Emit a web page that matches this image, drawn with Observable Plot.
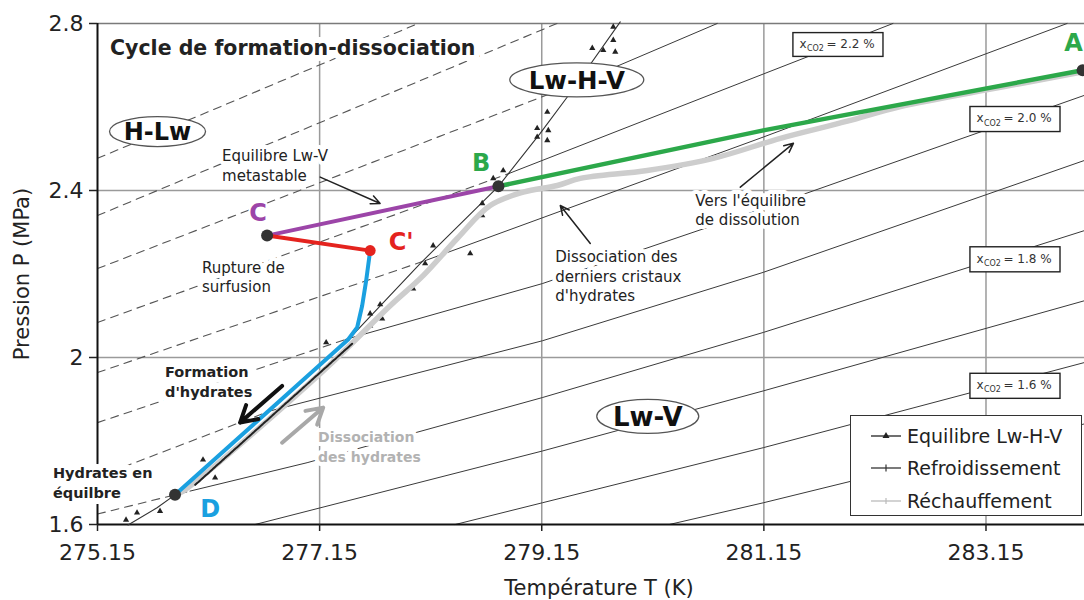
<!DOCTYPE html>
<html><head><meta charset="utf-8">
<script src="https://cdn.jsdelivr.net/npm/d3@7"></script>
<script src="https://cdn.jsdelivr.net/npm/@observablehq/plot@0.6"></script>
<style>
body{margin:0;background:#fff;}
#wrap{position:relative;width:1084px;height:600px;overflow:hidden;font-family:"DejaVu Sans",sans-serif;}
#wrap svg text{paint-order:stroke;}
.legend{position:absolute;left:850px;top:415px;width:230px;height:99px;border:1.6px solid #333;background:#fff;}
.legend .row{position:absolute;left:18px;height:24px;display:flex;align-items:center;font-size:19px;color:#222;}
.legend .row svg{margin-right:4px;}
</style></head>
<body><div id="wrap"></div>
<script>
// ---------- axes ----------
const xTicks = [275.15, 277.15, 279.15, 281.15, 283.15];
const yTicks = [1.6, 2.0, 2.4, 2.8];
const yTickLabels = ["1.6", "2", "2.4", "2.8"];
const gridT = [277.15, 279.15, 281.15, 283.15];
const gridP = [2.0, 2.4];

// ---------- CO2 isopleths (T K, P MPa) ----------
const isoDashed = [
  [[275.15, 2.477], [278.037, 2.800]],
  [[275.15, 2.340], [279.287, 2.800]],
  [[275.15, 2.213], [279.470, 2.657]],
  [[275.15, 2.084], [278.857, 2.441]],
  [[275.15, 1.964], [278.100, 2.232]],
  [[275.15, 1.844], [277.380, 2.043]],
  [[275.15, 1.714], [276.704, 1.872]],
  [[275.15, 1.625], [275.983, 1.680]]
];
const isoSolid = [
  [[279.470, 2.657], [280.730, 2.800]],
  [[278.857, 2.441], [281.145, 2.679], [282.312, 2.800]],
  [[278.100, 2.232], [281.145, 2.528], [283.880, 2.800]],
  [[277.380, 2.043], [279.155, 2.177], [281.145, 2.357], [284.037, 2.628]],
  [[276.704, 1.872], [279.155, 2.040], [281.145, 2.204], [284.037, 2.472]],
  [[275.983, 1.680], [277.037, 1.748], [279.155, 1.904], [281.145, 2.060], [284.037, 2.304]],
  [[276.569, 1.600], [279.155, 1.776], [281.145, 1.920], [284.037, 2.136]],
  [[278.371, 1.600], [279.155, 1.652], [281.145, 1.784], [284.037, 1.988]],
  [[280.299, 1.600], [281.145, 1.652], [284.037, 1.841]]
];
const boxLabels = ["2.2 %", "2.0 %", "1.8 %", "1.6 %"];
const boxT1 = [281.416, 283.010, 283.010, 283.010];
const boxT2 = [282.227, 283.821, 283.821, 283.821];
const boxPlo = [2.720, 2.540, 2.204, 1.901];
const boxPhi = [2.777, 2.600, 2.264, 1.961];

// ---------- equilibrium Lw-H-V ----------
const eqLine = [[275.425, 1.599], [275.686, 1.640], [275.848, 1.671], [276.614, 1.853], [277.398, 2.040],
  [278.055, 2.225], [278.760, 2.410], [279.136, 2.537], [279.380, 2.624], [279.857, 2.804]];
const eqPoints = [[275.407, 1.611], [275.506, 1.628], [275.713, 1.632], [276.100, 1.755], [276.209, 1.712],
  [277.209, 2.036], [277.605, 2.105], [277.695, 2.127], [277.605, 2.076], [277.713, 2.093],
  [277.992, 2.165], [278.100, 2.225], [278.172, 2.268], [278.506, 2.249], [278.614, 2.369],
  [278.614, 2.340], [278.713, 2.429], [278.803, 2.448], [279.109, 2.549], [279.109, 2.528],
  [279.200, 2.588], [279.209, 2.544], [279.200, 2.520], [279.605, 2.741], [279.704, 2.736],
  [279.812, 2.732], [279.794, 2.760], [279.794, 2.792]];

// ---------- experimental cycle ----------
const rechauffement = [[275.848, 1.671], [275.920, 1.680], [277.182, 1.968], [277.785, 2.124], [278.082, 2.196],
  [278.389, 2.285], [278.686, 2.364], [278.983, 2.396], [279.290, 2.412], [279.497, 2.429], [280.100, 2.448],
  [280.695, 2.477], [281.299, 2.525], [281.902, 2.566], [282.380, 2.601], [283.280, 2.647], [284.000, 2.683]];
const refroidissement = [[276.030, 1.695], [277.443, 2.033]];
const pathAB = [[284.020, 2.688], [281.145, 2.544], [278.760, 2.410]];
const pathBC = [[278.760, 2.410], [276.677, 2.292]];
const pathCC = [[276.677, 2.292], [277.605, 2.256]];
const pathCD = [[277.605, 2.256], [277.569, 2.184], [277.533, 2.124], [277.488, 2.072], [277.407, 2.043], [275.848, 1.671]];
const pointNames = ["A", "B", "C", "D"];
const pointT = [284.020, 278.760, 276.677, 275.848];
const pointP = [2.688, 2.410, 2.292, 1.671];
const pointCprime = [[277.605, 2.256]];

// ---------- annotations ----------
const labelNames = ["C", "C'", "B", "A", "D"];
const labelT = [276.596, 277.884, 278.605, 283.938, 276.164];
const labelP = [2.345, 2.276, 2.465, 2.753, 1.637];
const notes = ["Equilibre Lw-V\nmetastable", "Rupture de\nsurfusion", "Dissociation des\nderniers cristaux\nd'hydrates", "Vers l'équilibre\nde dissolution"];
const notesT = [276.272, 276.091, 279.272, 280.533];
const notesP = [2.462, 2.194, 2.196, 2.355];
const notesBold = ["Formation\nd'hydrates", "Hydrates en\néquilbre"];
const notesBoldT = [275.758, 274.749];
const notesBoldP = [1.944, 1.702];
const noteGray = ["Dissociation\ndes hydrates"];
const noteGrayT = [277.136];
const noteGrayP = [1.788];
const arrowsThin = [[277.155, 2.432, 277.695, 2.369], [279.587, 2.273, 279.317, 2.364], [280.938, 2.408, 281.416, 2.513]];
const arrowFormation = [[276.812, 1.932, 276.434, 1.844]];
const arrowDissociation = [[276.812, 1.796, 277.182, 1.880]];
const regionLabels = ["H-Lw", "Lw-H-V", "Lw-V"];
const regionT = [275.695, 279.470, 280.109];
const regionP = [2.540, 2.664, 1.858];
const title = "Cycle de formation-dissociation";
const titleT = 275.263, titleP = 2.741;
const xLabel = "Température T (K)";
const yLabel = "Pression P (MPa)";
const legendLabels = ["Equilibre Lw-H-V", "Refroidissement", "Réchauffement"];

// ---------- build rows ----------
const toRows = (lines) => lines.flatMap((pts, i) => pts.map(([T, P]) => ({id: i, T, P})));
const pts = (arr) => arr.map(([T, P]) => ({T, P}));
const dashedRows = toRows(isoDashed);
const solidRows = toRows(isoSolid);
const boxes = boxLabels.map((l, i) => ({l, T1: boxT1[i], T2: boxT2[i], P1: boxPlo[i], P2: boxPhi[i]}));
const points = pointNames.map((n, i) => ({n, T: pointT[i], P: pointP[i]}));
const COL = {C: "#9c45a8", "C'": "#e4231e", B: "#2ca84a", A: "#2ca84a", D: "#1aa0e0"};
const labels = labelNames.map((n, i) => ({n, T: labelT[i], P: labelP[i]}));
const mk = (t, T, P) => t.map((s, i) => ({s, T: T[i], P: P[i]}));
const arr = (a) => a.map(([a1, b1, a2, b2]) => ({T1: a1, P1: b1, T2: a2, P2: b2}));
const halo = {stroke: "white", strokeWidth: 8, strokeLinejoin: "round"};

const plot = Plot.plot({
  width: 1084, height: 600,
  marginLeft: 97, marginRight: 0, marginTop: 23, marginBottom: 76,
  x: {domain: [275.15, 284.037]},
  y: {domain: [1.6, 2.8]},
  style: {fontFamily: "'DejaVu Sans', sans-serif", fontSize: "14px", color: "#222", background: "#fff", overflow: "visible"},
  marks: [
    Plot.ruleX(gridT, {stroke: "#9a9a9a", strokeWidth: 1.5}),
    Plot.ruleY(gridP, {stroke: "#9a9a9a", strokeWidth: 1.5}),
    Plot.ruleY([2.8], {stroke: "#7a7a7a", strokeWidth: 1.5}),
    Plot.line(dashedRows, {x: "T", y: "P", z: "id", stroke: "#555", strokeWidth: 1.1, strokeDasharray: "8,6"}),
    Plot.line(solidRows, {x: "T", y: "P", z: "id", stroke: "#3a3a3a", strokeWidth: 1}),
    Plot.ruleX([275.15], {stroke: "#111", strokeWidth: 2}),
    Plot.ruleY([1.6], {stroke: "#111", strokeWidth: 2}),
    Plot.axisX({ticks: xTicks, anchor: "bottom", tickSize: 7, tickPadding: 13, tickFormat: d => d.toFixed(2), fontSize: 22, label: null, color: "#222", strokeWidth: 1.5}),
    Plot.axisY({ticks: yTicks, anchor: "left", tickSize: 8, tickPadding: 6, tickFormat: d => yTickLabels[yTicks.indexOf(d)], fontSize: 22, label: null, color: "#222", strokeWidth: 1.5}),
    Plot.text([xLabel], {text: d => d, frameAnchor: "bottom", textAnchor: "middle", lineAnchor: "middle", dy: 64, dx: 8, fontSize: 21, fill: "#222"}),
    Plot.text([yLabel], {text: d => d, frameAnchor: "left", textAnchor: "middle", lineAnchor: "middle", dx: -75, rotate: -90, fontSize: 21, fill: "#222"}),
    Plot.line(pts(eqLine), {x: "T", y: "P", stroke: "#333", strokeWidth: 1.1}),
    Plot.dot(pts(eqPoints), {x: "T", y: "P", symbol: "triangle", r: 2.3, fill: "#222"}),
    Plot.line(pts(rechauffement), {x: "T", y: "P", stroke: "#cdcdcd", strokeWidth: 5.5, strokeLinecap: "round", curve: "catmull-rom"}),
    Plot.line(pts(refroidissement), {x: "T", y: "P", stroke: "#222", strokeWidth: 2, strokeDasharray: "3,1"}),
    Plot.line(pts(pathAB), {x: "T", y: "P", stroke: COL.A, strokeWidth: 4.5}),
    Plot.line(pts(pathBC), {x: "T", y: "P", stroke: COL.C, strokeWidth: 4}),
    Plot.line(pts(pathCC), {x: "T", y: "P", stroke: COL["C'"], strokeWidth: 4}),
    Plot.line(pts(pathCD), {x: "T", y: "P", stroke: COL.D, strokeWidth: 4, strokeLinejoin: "round"}),
    Plot.dot(points, {x: "T", y: "P", r: 6, fill: "#333"}),
    Plot.dot(pts(pointCprime), {x: "T", y: "P", r: 5.5, fill: COL["C'"]}),
    Plot.arrow(arr(arrowsThin), {x1: "T1", y1: "P1", x2: "T2", y2: "P2", stroke: "#222", strokeWidth: 1.5, headLength: 10, headAngle: 50}),
    Plot.arrow(arr(arrowFormation), {x1: "T1", y1: "P1", x2: "T2", y2: "P2", stroke: "#111", strokeWidth: 4, headLength: 14, headAngle: 60}),
    Plot.arrow(arr(arrowDissociation), {x1: "T1", y1: "P1", x2: "T2", y2: "P2", stroke: "#a8a8a8", strokeWidth: 4, headLength: 14, headAngle: 60}),
    Plot.rect(boxes, {x1: "T1", x2: "T2", y1: "P1", y2: "P2", fill: "white", stroke: "#222", strokeWidth: 1.4}),
    Plot.text(boxes, {x: "T1", y: d => (d.P1 + d.P2) / 2, text: () => "x", textAnchor: "start", dx: 6, dy: -1, fontSize: 12, fill: "#333"}),
    Plot.text(boxes, {x: "T1", y: d => (d.P1 + d.P2) / 2, text: () => "CO2", textAnchor: "start", dx: 13.5, dy: 3.5, fontSize: 8, fill: "#333"}),
    Plot.text(boxes, {x: "T1", y: d => (d.P1 + d.P2) / 2, text: d => "= " + d.l, textAnchor: "start", dx: 33, dy: -1, fontSize: 12, fill: "#333"}),
    Plot.text([title], {x: titleT, y: titleP, text: d => d, textAnchor: "start", fontSize: 20.5, fontWeight: "bold", fill: "#222", stroke: "white", strokeWidth: 12}),
    Plot.text(mk(notes, notesT, notesP), {x: "T", y: "P", text: "s", textAnchor: "start", lineAnchor: "middle", lineHeight: 1.3, fontSize: 15, fill: "#222", ...halo}),
    Plot.text(mk(notesBold, notesBoldT, notesBoldP), {x: "T", y: "P", text: "s", textAnchor: "start", lineAnchor: "middle", lineHeight: 1.35, fontSize: 14.5, fontWeight: "bold", fill: "#222", stroke: "white", strokeWidth: 12, strokeLinejoin: "round"}),
    Plot.text(mk(noteGray, noteGrayT, noteGrayP), {x: "T", y: "P", text: "s", textAnchor: "start", lineAnchor: "middle", lineHeight: 1.4, fontSize: 14, fontWeight: "bold", fill: "#b2b2b2", ...halo}),
    Plot.text(labels, {x: "T", y: "P", text: "n", fontSize: 24, fontWeight: "bold", fill: d => COL[d.n], stroke: "white", strokeWidth: 4})
  ]
});

const wrap = document.getElementById("wrap");
wrap.appendChild(plot);

// region ellipses positioned through the plot's own scales
const svgEl = plot.tagName.toLowerCase() === "svg" ? plot : plot.querySelector("svg");
const sxs = plot.scale("x"), sys = plot.scale("y");
const fx = d3.scaleLinear(sxs.domain, sxs.range), fy = d3.scaleLinear(sys.domain, sys.range);
const rx = [48, 67, 51], ry = [15, 17, 17], fs = [24, 24.5, 26];
const g = d3.select(svgEl).append("g");
regionLabels.forEach((l, i) => {
  g.append("ellipse").attr("cx", fx(regionT[i])).attr("cy", fy(regionP[i])).attr("rx", rx[i]).attr("ry", ry[i])
    .attr("fill", "white").attr("stroke", "#555").attr("stroke-width", 1.3);
  g.append("text").attr("x", fx(regionT[i])).attr("y", fy(regionP[i])).attr("dy", "0.36em")
    .attr("text-anchor", "middle").attr("font-weight", "bold").attr("font-size", fs[i]).attr("fill", "#111").text(l);
});

// legend
const lg = document.createElement("div");
lg.className = "legend";
const samples = [
  '<line x1="2" y1="12" x2="32" y2="12" stroke="#222" stroke-width="1.3"/><path d="M17,8 L20.5,14 L13.5,14Z" fill="#222"/>',
  '<line x1="2" y1="12" x2="32" y2="12" stroke="#333" stroke-width="1.3"/><line x1="17" y1="8.5" x2="17" y2="15.5" stroke="#333" stroke-width="1.2"/>',
  '<line x1="2" y1="12" x2="32" y2="12" stroke="#cfcfcf" stroke-width="1.8"/><line x1="17" y1="9" x2="17" y2="15" stroke="#bbb" stroke-width="1.2"/>'
];
const rowTops = [8, 40, 73];
legendLabels.forEach((l, i) => {
  const r = document.createElement("div");
  r.className = "row";
  r.style.top = rowTops[i] + "px";
  r.innerHTML = '<svg width="34" height="24">' + samples[i] + '</svg><span>' + l + '</span>';
  lg.appendChild(r);
});
wrap.appendChild(lg);
</script></body></html>
